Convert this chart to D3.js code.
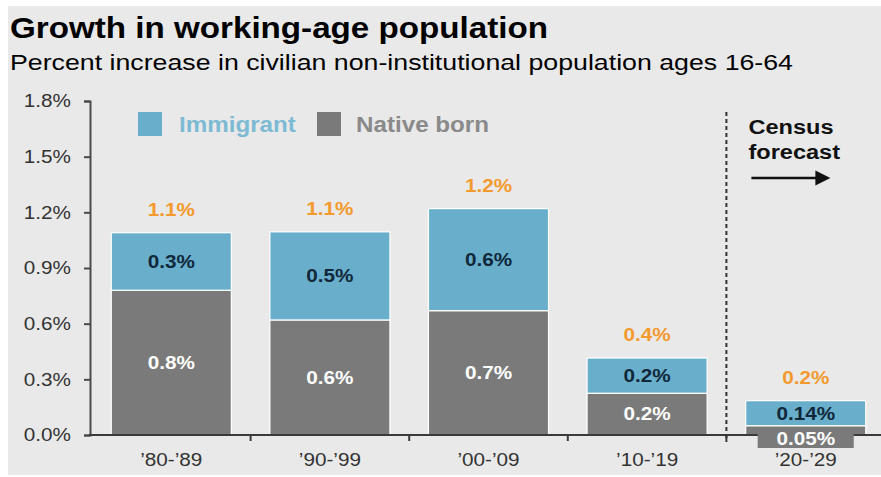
<!DOCTYPE html>
<html>
<head>
<meta charset="utf-8">
<script src="https://cdn.jsdelivr.net/npm/d3@7"></script>
<style>
  body { margin: 0; background: #fff; }
  svg { display: block; font-family: "Liberation Sans", Arial, sans-serif; }
</style>
</head>
<body>
<div id="draw_here"></div>

<script type="text/javascript">
    // Data
    periods = ["\u201980-\u201989", "\u201990-\u201999", "\u201900-\u201909", "\u201910-\u201919", "\u201920-\u201929"]
    native = [0.78, 0.62, 0.67, 0.225, 0.05]
    immigrant = [0.31, 0.475, 0.55, 0.19, 0.135]
    nativeLabels = ["0.8%", "0.6%", "0.7%", "0.2%", "0.05%"]
    immigrantLabels = ["0.3%", "0.5%", "0.6%", "0.2%", "0.14%"]
    totalLabels = ["1.1%", "1.1%", "1.2%", "0.4%", "0.2%"]
    yTicks = [0, 0.3, 0.6, 0.9, 1.2, 1.5, 1.8]
    seriesNames = ["Native born", "Immigrant"]

    canvas = ({width: 881, height: 477})

    c_blue = "#69afcc"
    c_gray = "#7a7a7a"
    c_orange = "#f39a2e"
    c_navy = "#10283a"
    c_bg = "#e9e9e9"

    // the source picture is a little wide, so text is stretched sideways
    sx = 1.15

    rows = periods.map((p, i) => ({period: p, "Native born": native[i], "Immigrant": immigrant[i], i: i}))
    stacked = d3.stack().keys(seriesNames)(rows)

    // Setup Chart
    x = d3.scaleBand()
        .domain(periods)
        .range([92, 885])
        .paddingInner(0.243)
        .paddingOuter(0.1215)

    y = d3.scaleLinear()
        .domain([0, 1.8])
        .range([435, 101])

    color = d3.scaleOrdinal().domain(seriesNames).range([c_gray, c_blue])

    var svg = d3.select("div#draw_here").append("svg")
        .attr("width", canvas.width)
        .attr("height", canvas.height)
        .attr("viewBox", [0, 0, canvas.width, canvas.height]);

    svg.append("rect")
        .attr("x", 8).attr("y", 6)
        .attr("width", canvas.width - 8).attr("height", 469)
        .attr("fill", c_bg);

    // Titles
    svg.append("text")
        .attr("x", 10).attr("y", 38)
        .attr("font-size", 30).attr("font-weight", "bold").attr("fill", "#000")
        .attr("textLength", 538).attr("lengthAdjust", "spacingAndGlyphs")
        .text("Growth in working-age population");

    svg.append("text")
        .attr("x", 10).attr("y", 70)
        .attr("font-size", 22.5).attr("fill", "#000")
        .attr("textLength", 783).attr("lengthAdjust", "spacingAndGlyphs")
        .text("Percent increase in civilian non-institutional population ages 16-64");

    // Bars
    svg.append("g")
        .selectAll("g")
        .data(stacked)
        .join("g")
        .attr("fill", d => color(d.key))
        .selectAll("rect")
        .data(d => d)
        .join("rect")
        .attr("x", d => x(d.data.period))
        .attr("y", d => y(d[1]))
        .attr("width", x.bandwidth())
        .attr("height", d => y(d[0]) - y(d[1]))
        .attr("stroke", "#fff")
        .attr("stroke-width", 1.2);

    // Axes
    yAxis = g => g
        .attr("transform", `translate(90,0)`)
        .call(d3.axisLeft(y).tickValues(yTicks).tickFormat(d => d.toFixed(1) + "%").tickSizeOuter(0).tickSize(6))
        .call(g => g.selectAll("line, path").attr("stroke", "#4a4a4a").attr("stroke-width", 2))
        .call(g => g.selectAll("text")
            .attr("x", null)
            .attr("transform", `translate(-19,0) scale(${sx},1)`)
            .attr("font-size", 18).attr("fill", "#333")
            .attr("font-family", "Liberation Sans, Arial, sans-serif"))

    svg.append("g").call(yAxis);

    bounds = periods.slice(1).map(p => x(p) - x.step() * x.paddingInner() / 2)

    svg.append("line")
        .attr("x1", 89).attr("x2", canvas.width)
        .attr("y1", y(0)).attr("y2", y(0))
        .attr("stroke", "#3a3a3a").attr("stroke-width", 2);

    svg.append("g")
        .selectAll("line")
        .data(bounds)
        .join("line")
        .attr("x1", d => d).attr("x2", d => d)
        .attr("y1", y(0)).attr("y2", y(0) + 6)
        .attr("stroke", "#3a3a3a").attr("stroke-width", 2);

    xAxis = g => g
        .attr("transform", `translate(0,${y(0)})`)
        .call(d3.axisBottom(x).tickSize(0).tickPadding(18))
        .call(g => g.select(".domain").remove())
        .call(g => g.selectAll("text")
            .attr("transform", `scale(${sx},1)`)
            .attr("font-size", 18).attr("fill", "#333")
            .attr("font-family", "Liberation Sans, Arial, sans-serif"))

    svg.append("g").call(xAxis);

    // Forecast divider
    svg.append("line")
        .attr("x1", bounds[3]).attr("x2", bounds[3])
        .attr("y1", 112).attr("y2", y(0) + 7)
        .attr("stroke", "#333").attr("stroke-width", 2)
        .attr("stroke-dasharray", "4,3");

    svg.append("g")
        .attr("transform", `translate(${bounds[3] + 22},0) scale(${sx},1)`)
        .selectAll("text")
        .data(["Census", "forecast"])
        .join("text")
        .attr("y", (d, i) => 134 + i * 25)
        .attr("font-size", 20.5).attr("font-weight", "bold").attr("fill", "#111")
        .text(d => d);

    svg.append("line")
        .attr("x1", bounds[3] + 25).attr("x2", bounds[3] + 92)
        .attr("y1", 178).attr("y2", 178)
        .attr("stroke", "#111").attr("stroke-width", 2.5);

    svg.append("path")
        .attr("d", d3.line()([[bounds[3] + 89, 170.5], [bounds[3] + 104, 178], [bounds[3] + 89, 185.5]]))
        .attr("fill", "#111");

    // Native born label under the axis for the last bar
    last = rows.length - 1
    svg.append("rect")
        .attr("x", x(periods[last]) + 12)
        .attr("y", y(0) - 2)
        .attr("width", x.bandwidth() - 24)
        .attr("height", 15)
        .attr("fill", c_gray);

    // Segment labels
    labelAt = (cx, cy) => `translate(${cx},${cy}) scale(${sx},1)`
    cx = d => x(d.period) + x.bandwidth() / 2

    svg.append("g")
        .selectAll("text")
        .data(rows)
        .join("text")
        .attr("transform", d => labelAt(cx(d), d.i === last ? y(0) + 4 : y(d["Native born"] / 2)))
        .attr("dy", "0.35em")
        .attr("text-anchor", "middle")
        .attr("font-size", 18).attr("font-weight", "bold").attr("fill", "#fff")
        .text(d => nativeLabels[d.i]);

    svg.append("g")
        .selectAll("text")
        .data(rows)
        .join("text")
        .attr("transform", d => labelAt(cx(d), y(d["Native born"] + d["Immigrant"] / 2)))
        .attr("dy", "0.35em")
        .attr("text-anchor", "middle")
        .attr("font-size", 18).attr("font-weight", "bold").attr("fill", c_navy)
        .text(d => immigrantLabels[d.i]);

    svg.append("g")
        .selectAll("text")
        .data(rows)
        .join("text")
        .attr("transform", d => labelAt(cx(d), y(d["Native born"] + d["Immigrant"]) - 23))
        .attr("dy", "0.35em")
        .attr("text-anchor", "middle")
        .attr("font-size", 18).attr("font-weight", "bold").attr("fill", c_orange)
        .text(d => totalLabels[d.i]);

    // Legend
    legend = svg.append("g")
        .selectAll("g")
        .data(["Immigrant", "Native born"])
        .join("g")
        .attr("transform", (d, i) => `translate(${i ? 317 : 138},112)`);

    legend.append("rect")
        .attr("width", 24).attr("height", 24)
        .attr("fill", d => color(d));

    legend.append("text")
        .attr("transform", d => `translate(${d === "Immigrant" ? 41 : 39},20) scale(1.1,1)`)
        .attr("font-size", 22).attr("font-weight", "bold")
        .attr("fill", d => d === "Immigrant" ? "#7dbad4" : "#8a8a8a")
        .text(d => d);
</script>
</body>
</html>
